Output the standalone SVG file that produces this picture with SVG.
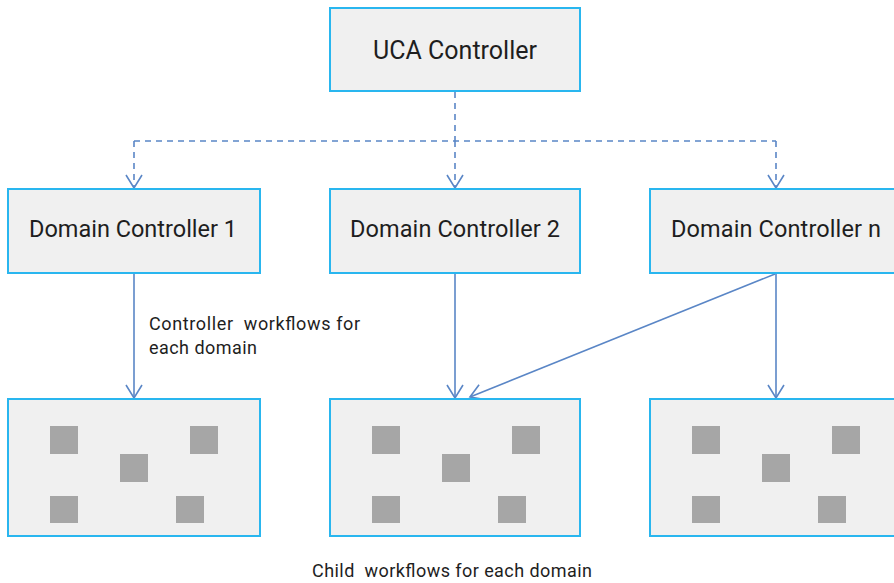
<svg xmlns="http://www.w3.org/2000/svg" width="894" height="583" viewBox="0 0 894 583">
<style>
.box{fill:#f0f0f0;stroke:#29b6ef;stroke-width:2}
.sq{fill:#a6a6a6}
.t{font-family:Roboto,"Liberation Sans",sans-serif;fill:#1e1e1e;text-anchor:middle}
.lbl{font-family:Roboto,"Liberation Sans",sans-serif;fill:#1e1e1e;font-size:18px}
.ln{fill:none;stroke:#5a86c6;stroke-width:1.6}
.dash{stroke-dasharray:6,5}
</style>
<defs>
<marker id="ah" markerWidth="20" markerHeight="20" refX="14" refY="9" orient="auto" markerUnits="userSpaceOnUse">
<path d="M1,1 L14,9 L1,17" fill="none" stroke="#5a86c6" stroke-width="1.6"/>
</marker>
<g id="sqs">
<rect class="sq" x="42" y="27" width="28" height="28"/>
<rect class="sq" x="182" y="27" width="28" height="28"/>
<rect class="sq" x="112" y="55" width="28" height="28"/>
<rect class="sq" x="42" y="97" width="28" height="27"/>
<rect class="sq" x="168" y="97" width="28" height="27"/>
</g>
</defs>
<g id="connectors">
<path class="ln dash" d="M455,92 V141"/>
<path class="ln dash" d="M134,141 H776"/>
<path class="ln dash" d="M134,141 V188" marker-end="url(#ah)"/>
<path class="ln dash" d="M455,141 V188" marker-end="url(#ah)"/>
<path class="ln dash" d="M776,141 V188" marker-end="url(#ah)"/>
<path class="ln" d="M134,274 V398" marker-end="url(#ah)"/>
<path class="ln" d="M455,274 V398" marker-end="url(#ah)"/>
<path class="ln" d="M776,274 V398" marker-end="url(#ah)"/>
<path class="ln" d="M775,274 L470,397" marker-end="url(#ah)"/>
</g>
<g id="uca">
<rect class="box" x="330" y="8" width="250" height="83"/>
<text class="t" x="455" y="59" font-size="25" textLength="164">UCA Controller</text>
</g>
<g id="dc1">
<rect class="box" x="8" y="189" width="252" height="84"/>
<text class="t" x="133" y="237" font-size="23.5" textLength="208">Domain Controller 1</text>
</g>
<g id="dc2">
<rect class="box" x="330" y="189" width="250" height="84"/>
<text class="t" x="455" y="237" font-size="23.5" textLength="210">Domain Controller 2</text>
</g>
<g id="dcn">
<rect class="box" x="650" y="189" width="252" height="84"/>
<text class="t" x="776" y="237" font-size="23.5" textLength="210">Domain Controller n</text>
</g>
<g id="wf1">
<rect class="box" x="8" y="399" width="252" height="137"/>
<use href="#sqs" x="8" y="399"/>
</g>
<g id="wf2">
<rect class="box" x="330" y="399" width="250" height="137"/>
<use href="#sqs" x="330" y="399"/>
</g>
<g id="wf3">
<rect class="box" x="650" y="399" width="252" height="137"/>
<use href="#sqs" x="650" y="399"/>
</g>
<g id="labels">
<text class="lbl" x="149" y="330" textLength="211" xml:space="preserve">Controller  workflows for</text>
<text class="lbl" x="149" y="354" textLength="108">each domain</text>
<text class="lbl" x="312" y="577" textLength="280" xml:space="preserve">Child  workflows for each domain</text>
</g>
</svg>
